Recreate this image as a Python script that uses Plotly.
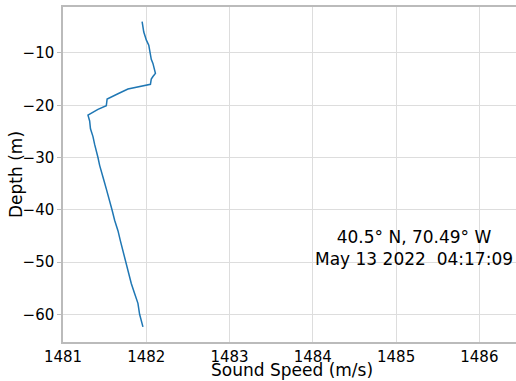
import plotly.graph_objects as go

# Sound speed profile (m/s) against depth (m)
depth = [-4.0, -5.0, -6.0, -7.0, -7.5, -8.5, -9.5, -10.5, -11.2, -12.0, -13.0, -13.9,
         -14.5, -15.0, -16.0, -16.9, -17.8, -18.8, -20.1, -20.8, -21.9, -23.0, -24.5,
         -26.0, -27.5, -28.6, -30.0, -31.5, -33.0, -34.3, -36.0, -38.0, -40.1, -42.0,
         -44.0, -46.0, -48.0, -50.0, -52.0, -54.1, -56.0, -57.9, -60.0, -61.0, -62.4]
sound_speed = [1481.95, 1481.96, 1481.97, 1481.99, 1482.00, 1482.03, 1482.04, 1482.05,
               1482.06, 1482.08, 1482.10, 1482.11, 1482.08, 1482.06, 1482.05, 1481.78,
               1481.66, 1481.53, 1481.52, 1481.42, 1481.30, 1481.32, 1481.33, 1481.36,
               1481.38, 1481.40, 1481.42, 1481.44, 1481.47, 1481.49, 1481.52, 1481.55,
               1481.59, 1481.62, 1481.66, 1481.69, 1481.72, 1481.75, 1481.78, 1481.82,
               1481.86, 1481.90, 1481.92, 1481.94, 1481.96]

location_text = "40.5° N, 70.49° W"
time_text = "May 13 2022  04:17:09"
x_title = "Sound Speed (m/s)"
y_title = "Depth (m)"

FONT = "DejaVu Sans"
W, H = 516, 381
M_L, M_R, M_T, M_B = 63, 0, 7, 39

fig = go.Figure()
fig.add_trace(go.Scatter(
    x=sound_speed, y=depth, mode="lines",
    line=dict(color="#1f77b4", width=1.5),
    showlegend=False,
))

fig.add_annotation(
    x=0.775, y=0.28, xref="paper", yref="paper",
    xanchor="center", yanchor="middle",
    text=location_text + "<br>" + time_text,
    showarrow=False, align="center",
    font=dict(family=FONT, size=17, color="#000000"),
)

# axis titles placed in pixel offsets from the plotting area
plot_w = W - M_L - M_R
plot_h = H - M_T - M_B
fig.add_annotation(
    x=(292 - M_L) / plot_w, y=-(370 - (H - M_B)) / plot_h,
    xref="paper", yref="paper", xanchor="center", yanchor="middle",
    text=x_title, showarrow=False,
    font=dict(family=FONT, size=17, color="#000000"),
)
fig.add_annotation(
    x=-(M_L - 16) / plot_w, y=((H - M_B) - 175) / plot_h,
    xref="paper", yref="paper", xanchor="center", yanchor="middle",
    text=y_title, showarrow=False, textangle=-90,
    font=dict(family=FONT, size=17, color="#000000"),
)

fig.update_layout(
    width=W, height=H,
    margin=dict(l=M_L, r=M_R, t=M_T, b=M_B),
    paper_bgcolor="white", plot_bgcolor="white",
    font=dict(family=FONT, color="#000000"),
    xaxis=dict(
        range=[1481, 1486.44],
        tickvals=[1481, 1482, 1483, 1484, 1485, 1486],
        showgrid=True, gridcolor="#dddddd", gridwidth=1,
        showline=True, linecolor="#bbbbbb", linewidth=1.5, mirror=True,
        ticks="", ticklabelstandoff=0,
        zeroline=False,
        tickfont=dict(size=15),
    ),
    yaxis=dict(
        range=[-65.3, -1.2],
        tickvals=[-10, -20, -30, -40, -50, -60],
        showgrid=True, gridcolor="#dddddd", gridwidth=1,
        showline=True, linecolor="#bbbbbb", linewidth=1.5,
        ticks="outside", ticklen=4, tickcolor="#bbbbbb",
        ticklabelstandoff=0,
        zeroline=False,
        tickfont=dict(size=15),
    ),
)

fig.write_html("out.html")
